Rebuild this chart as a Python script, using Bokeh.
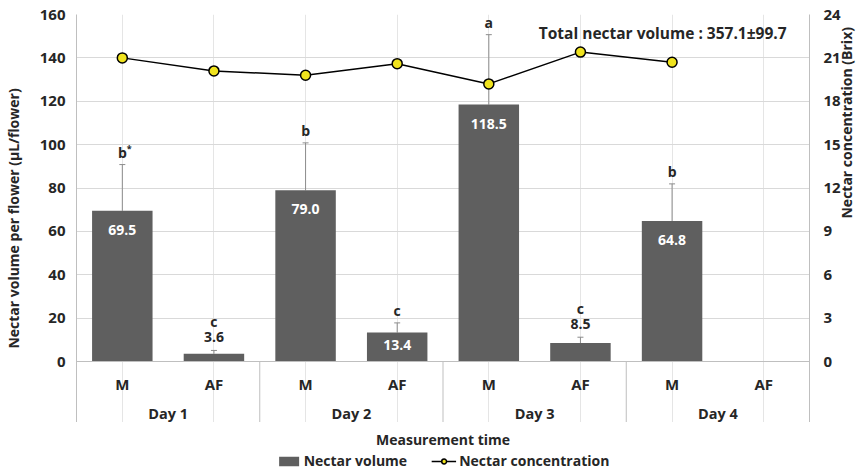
import math
from bokeh.plotting import figure
from bokeh.layouts import column
from bokeh.models import (FactorRange, Range1d, LinearAxis, FixedTicker, Whisker, TeeHead,
                          ColumnDataSource, Legend, LegendItem, Label, Span)
from bokeh.core.properties import value
from bokeh.embed import file_html
from bokeh.resources import INLINE

# ---- data ----
days = ["Day 1", "Day 2", "Day 3", "Day 4"]
times = ["M", "AF"]
volume = [69.5, 3.6, 79.0, 13.4, 118.5, 8.5, 64.8, None]
volume_upper = [90.8, 5.1, 100.8, 17.8, 150.7, 11.2, 81.9, None]
letters = ["b*", "c", "b", "c", "a", "c", "b", None]
concentration = [21.0, 20.1, 19.8, 20.6, 19.2, 21.4, 20.7, None]
left_ticks = [0, 20, 40, 60, 80, 100, 120, 140, 160]
right_ticks = [0, 3, 6, 9, 12, 15, 18, 21, 24]
total_text = "Total nectar volume : 357.1\u00b199.7"
x_title = "Measurement time"
series_names = ["Nectar volume", "Nectar concentration"]

FONT = "Open Sans"
TXT = "#262626"
BAR = "#5f5f5f"
AXC = "#bfbfbf"
YEL = "#f0e31e"
PX = 347 / 160.0          # pixels per volume unit
AXIS_DEPTH = 61           # pixels of category-label band below zero
YMAX = 160
YMIN = -AXIS_DEPTH / PX
RMAX = 24
RMIN = YMIN * RMAX / YMAX

factors = [(d, t) for d in days for t in times]
idx = [i for i, v in enumerate(volume) if v is not None]

p = figure(frame_width=733, frame_height=round((YMAX - YMIN) * PX),
           output_backend="svg", toolbar_location=None, x_axis_location=None,
           x_range=FactorRange(*factors, range_padding=0, group_padding=0, factor_padding=0),
           y_range=Range1d(YMIN, YMAX),
           min_border_left=64, min_border_right=40, min_border_top=14, min_border_bottom=0)
p.outline_line_color = None
p.background_fill_color = "white"
p.extra_y_ranges = {"brix": Range1d(RMIN, RMAX)}

# grid
p.ygrid.grid_line_color = "#d9d9d9"
p.ygrid.grid_line_width = 1

bar_src = ColumnDataSource(dict(
    x=[factors[i] for i in idx],
    top=[volume[i] for i in idx],
    upper=[volume_upper[i] for i in idx],
    lower=[volume[i] for i in idx],
))
p.vbar(x="x", top="top", bottom=0, width=0.66, source=bar_src, fill_color=BAR, line_color=None)

wh = Whisker(base="x", upper="upper", lower="lower", source=bar_src,
             line_color="#8c8c8c", line_width=1,
             upper_head=TeeHead(size=6, line_color="#8c8c8c", line_width=1), lower_head=None)
p.add_layout(wh)

# category axis line at zero and group separators
p.add_layout(Span(location=0, dimension="width", line_color=AXC, line_width=1))
seps = [len(times) * k for k in range(1, len(days))]
p.segment(x0=seps, y0=[0] * len(seps), x1=seps, y1=[YMIN] * len(seps), line_color=AXC, line_width=1)

# category labels
p.text(x=factors, y=[0] * len(factors), text=[f[1] for f in factors], y_offset=22,
       text_color=TXT, text_font=value(FONT), text_font_size="15px", text_font_style="bold",
       text_align="center", text_baseline="middle")
p.text(x=days, y=[0] * len(days), text=days, y_offset=52,
       text_color=TXT, text_font=value(FONT), text_font_size="14.5px", text_font_style="bold",
       text_align="center", text_baseline="middle")

# value labels: inside bar (white) when large, above bar when small
big = [i for i in idx if volume[i] >= 10]
small = [i for i in idx if volume[i] < 10]
for i in big:
    off = min(19, volume[i] * PX / 2 - 2)
    p.text(x=[factors[i]], y=[volume[i]], text=["%.1f" % volume[i]],
           text_color="white", text_font=value(FONT), text_font_size="14px", text_font_style="bold",
           text_align="center", text_baseline="middle", y_offset=off)
p.text(x=[factors[i] for i in small], y=[volume_upper[i] for i in small], text=["%.1f" % volume[i] for i in small],
       text_color=TXT, text_font=value(FONT), text_font_size="14px", text_font_style="bold",
       text_align="center", text_baseline="middle", y_offset=-13)

# significance letters (asterisk drawn as a small superscript)
for i in idx:
    base = letters[i].rstrip("*")
    star = letters[i][len(base):]
    off = -12 if volume[i] >= 10 else -29
    p.text(x=[factors[i]], y=[volume_upper[i]], text=[base],
           text_color=TXT, text_font=value(FONT), text_font_size="14px", text_font_style="bold",
           text_align="center", text_baseline="middle", y_offset=off)
    if star:
        p.text(x=[factors[i]], y=[volume_upper[i]], text=[star], x_offset=7, y_offset=off - 4,
               text_color=TXT, text_font=value(FONT), text_font_size="9px", text_font_style="bold",
               text_align="center", text_baseline="middle")

cidx = [i for i, v in enumerate(concentration) if v is not None]
conc_src = ColumnDataSource(dict(x=[factors[i] for i in cidx], y=[concentration[i] for i in cidx]))
p.line(x="x", y="y", source=conc_src, y_range_name="brix", line_color="black", line_width=1.5)
p.scatter(x="x", y="y", source=conc_src, y_range_name="brix", size=10,
          fill_color=YEL, line_color="black", line_width=1.5)

p.add_layout(Label(x=7.75, y=151.5, text=total_text, text_align="right", text_baseline="middle",
                   text_font=FONT, text_font_size="15.5px", text_font_style="bold", text_color=TXT))

# left axis
ya = p.yaxis[0]
ya.ticker = FixedTicker(ticks=left_ticks)
ya.axis_label = "Nectar volume per flower (\u00b5L/flower)"
ya.axis_line_color = AXC
ya.major_tick_line_color = None
ya.minor_tick_line_color = None
ya.major_label_standoff = 5
ya.axis_label_standoff = 14

# right axis
ra = LinearAxis(y_range_name="brix", ticker=FixedTicker(ticks=right_ticks),
                axis_label="Nectar concentration (Brix)")
ra.axis_line_color = AXC
ra.major_tick_line_color = None
ra.minor_tick_line_color = None
ra.major_label_standoff = 8
ra.axis_label_standoff = 3
try:
    ra.axis_label_orientation = math.pi / 2
except Exception:
    pass
p.add_layout(ra, "right")

for ax in [ya, ra]:
    ax.major_label_text_font = FONT
    ax.major_label_text_font_size = "15px"
    ax.major_label_text_font_style = "bold"
    ax.major_label_text_color = TXT
    ax.axis_label_text_font = FONT
    ax.axis_label_text_font_size = "14px"
    ax.axis_label_text_font_style = "bold"
    ax.axis_label_text_color = TXT

# ---- strip below: x-axis title and legend ----
SH = 48
q = figure(frame_width=733, frame_height=SH, output_backend="svg", toolbar_location=None,
           x_axis_location=None, y_axis_location=None,
           x_range=Range1d(0, 1), y_range=Range1d(0, SH),
           min_border_left=64, min_border_right=40, min_border_top=0, min_border_bottom=0)
q.outline_line_color = None
q.xgrid.grid_line_color = None
q.ygrid.grid_line_color = None
q.text(x=[0.5], y=[SH - 17], text=[x_title], text_color=TXT, text_font=value(FONT),
       text_font_size="14px", text_font_style="bold", text_align="center", text_baseline="middle")

# legend proxies: one off-frame point each so the legend can draw their glyphs
proxy = ColumnDataSource(dict(x=[-5.0], y=[-5.0], top=[-4.0]))
lg_bar = q.vbar(x="x", top="top", bottom="y", width=0.1, source=proxy, fill_color=BAR, line_color=None)
lg_line = q.line(x="x", y="y", source=proxy, line_color="black", line_width=1.5)
lg_pt = q.scatter(x="x", y="y", source=proxy, size=10, fill_color=YEL, line_color="black", line_width=1.5)

legend = Legend(items=[LegendItem(label=series_names[0], renderers=[lg_bar]),
                       LegendItem(label=series_names[1], renderers=[lg_line, lg_pt])],
                orientation="horizontal", location="bottom_center",
                border_line_color=None, background_fill_alpha=0,
                padding=0, margin=0, spacing=24, label_standoff=3,
                glyph_width=25, glyph_height=12, label_height=16,
                label_text_font=FONT, label_text_font_size="14px",
                label_text_font_style="bold", label_text_color=TXT)
q.add_layout(legend)

layout = column(p, q, spacing=0)
open("out.html", "w").write(file_html(layout, INLINE))
